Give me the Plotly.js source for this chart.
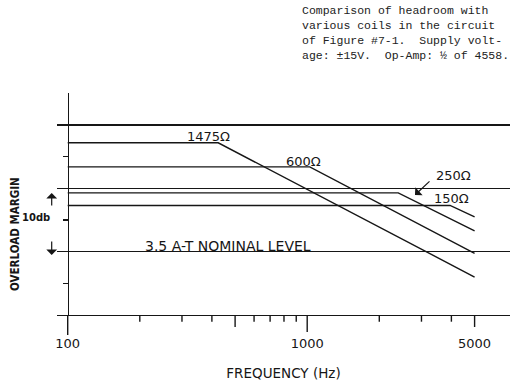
<!DOCTYPE html>
<html>
<head>
<meta charset="utf-8">
<script src="https://cdn.plot.ly/plotly-3.0.1.min.js"></script>
<style>html,body{margin:0;padding:0;background:#fff;}</style>
</head>
<body>
<div id="chart" style="width:523px;height:391px;"></div>
<script>
// ---- data ----
const seriesNames = ['1475Ω', '600Ω', '250Ω', '150Ω'];
const freq1475 = [100, 425, 5000];
const margin1475 = [17.2, 17.2, -4.0];
const freq600 = [100, 1025, 5000];
const margin600 = [13.4, 13.4, -0.25];
const freq250 = [100, 2400, 5000];
const margin250 = [9.3, 9.3, 3.3];
const freq150 = [100, 3950, 5000];
const margin150 = [7.3, 7.3, 5.5];

const xTickVals = [100, 200, 300, 400, 500, 600, 700, 800, 900, 1000, 2000, 3000, 4000, 5000];
const xTickText = ['100', '', '', '', '', '', '', '', '', '1000', '', '', '', '5000'];
const yGridVals = [-10, 0, 10, 20];
const yMinorTicks = [-5, 5, 15];

const titleLines = [
  'Comparison of headroom with',
  'various coils in the circuit',
  'of Figure #7-1.  Supply volt-',
  'age: ±15V.  Op-Amp: ½ of 4558.'
];

// ---- layout helpers (pixel -> paper) ----
const W = 523, H = 391;
const M = {l: 57, r: 13, t: 93, b: 76};
const PW = W - M.l - M.r, PH = H - M.t - M.b;
const px = v => (v - M.l) / PW;
const py = v => (H - M.b - v) / PH;

const INK = '#161616';
const LETTER = 'DejaVu Sans, Verdana, sans-serif';
const COND = 'DejaVu Sans Condensed, DejaVu Sans, sans-serif';
const xRange = [1.9553, 3.8468];
// position of a frequency on the (log) x axis, as a paper fraction
const xFrac = f => (Math.log10(f) - xRange[0]) / (xRange[1] - xRange[0]);

function lineTrace(x, y, name) {
  return {type: 'scatter', mode: 'lines', x: x, y: y, name: name,
          line: {color: INK, width: 1.4}, hoverinfo: 'x+y+name'};
}
const data = [
  lineTrace(freq1475, margin1475, seriesNames[0]),
  lineTrace(freq600, margin600, seriesNames[1]),
  lineTrace(freq250, margin250, seriesNames[2]),
  lineTrace(freq150, margin150, seriesNames[3])
];

function label(text, cx, cy, size, family, weight) {
  return {xref: 'paper', yref: 'paper', x: px(cx), y: py(cy), text: text,
          showarrow: false, xanchor: 'center', yanchor: 'middle',
          font: {family: family || LETTER, size: size || 13, color: INK, weight: weight || 'normal'}};
}
function arrow(hx, hy, tx, ty) {
  return {xref: 'paper', yref: 'paper', x: px(hx), y: py(hy), text: '',
          showarrow: true, ax: tx - hx, ay: ty - hy, arrowhead: 1,
          arrowsize: 1.5, arrowwidth: 1.2, arrowcolor: INK, standoff: 0};
}

const annotations = [];
annotations.push({
  xref: 'paper', yref: 'paper', x: px(300), y: py(2), text: titleLines.join('<br>'),
  showarrow: false, xanchor: 'left', yanchor: 'top', align: 'left',
  font: {family: 'Liberation Mono, Courier New, monospace', size: 11.5, color: '#222'}
});
annotations.push(label(seriesNames[0], 208, 136.5));
annotations.push(label(seriesNames[1], 303, 161.5));
annotations.push(label(seriesNames[2], 453, 175));
annotations.push(label(seriesNames[3], 451, 198.3));
annotations.push(label('3.5 A-T NOMINAL LEVEL', 228, 246, 14));
annotations.push(label('10db', 36, 217.3, 10, LETTER, 'bold'));
annotations.push(arrow(415, 195, 431, 180));
annotations.push(arrow(51.7, 193, 51.7, 207));
annotations.push(arrow(51.7, 255, 51.7, 240));
annotations.push({xref: 'paper', yref: 'paper', x: px(15), y: py(234), text: 'OVERLOAD MARGIN',
  textangle: -90, showarrow: false, xanchor: 'center', yanchor: 'middle',
  font: {family: COND, size: 11.5, color: INK, weight: 'bold'}});

// tick marks below the frequency axis (lengths in px)
const longLen = {100: 20, 500: 12, 1000: 17, 5000: 12};
const shapes = xTickVals.map(f => ({
  type: 'line', xref: 'paper', yref: 'paper', x0: xFrac(f), x1: xFrac(f),
  y0: 0, y1: -(longLen[f] || 6.7) / PH, line: {color: INK, width: 1.4}
}));

const layout = {
  width: W, height: H,
  margin: {l: M.l, r: M.r, t: M.t, b: M.b, pad: 0},
  paper_bgcolor: '#fff', plot_bgcolor: '#fff',
  showlegend: false,
  xaxis: {
    type: 'log', range: xRange,
    showline: true, linecolor: INK, linewidth: 1.3,
    showgrid: false, zeroline: false,
    tickmode: 'array', tickvals: xTickVals, ticktext: xTickText,
    ticks: 'outside', ticklen: 12, tickwidth: 1, tickcolor: 'rgba(0,0,0,0)',
    tickfont: {family: LETTER, size: 13, color: INK},
    ticklabelstandoff: 4,
    title: {text: 'FREQUENCY (Hz)', standoff: 18,
            font: {family: LETTER, size: 13.5, color: INK}},
    fixedrange: true
  },
  yaxis: {
    range: [-10, 25.07], anchor: 'free', position: xFrac(100),
    showline: true, linecolor: INK, linewidth: 1.3,
    showgrid: true, gridcolor: INK, gridwidth: 1.3,
    zeroline: false, tickmode: 'array', tickvals: yGridVals,
    ticks: '', showticklabels: false,
    minor: {tickmode: 'array', tickvals: yMinorTicks, ticks: 'outside', ticklen: 4.5,
            tickwidth: 1.2, tickcolor: INK, showgrid: false},
    fixedrange: true
  },
  shapes: shapes,
  annotations: annotations
};

Plotly.newPlot('chart', data, layout, {displayModeBar: false, staticPlot: true});
</script>
</body>
</html>
